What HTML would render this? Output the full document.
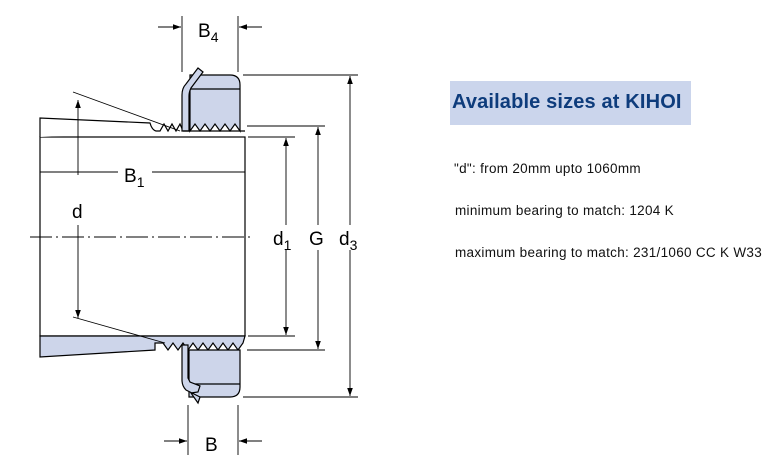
<!DOCTYPE html>
<html><head><style>
html,body{margin:0;padding:0;background:#fff;width:768px;height:465px;overflow:hidden}
svg{position:absolute;left:0;top:0}
.t{font-family:"Liberation Sans",Arial,sans-serif;position:absolute;color:#111;font-size:13.5px;white-space:nowrap}
</style></head><body>
<svg width="768" height="465" viewBox="0 0 768 465">
<defs>
<marker id="a" viewBox="0 0 10 10" refX="10" refY="5" markerWidth="10" markerHeight="8" orient="auto-start-reverse" markerUnits="userSpaceOnUse"><path d="M0,1.5 L10,5 L0,8.5z" fill="#000"/></marker>
</defs>
<g stroke="#000" stroke-width="1.2" fill="none">
<rect x="40" y="137" width="205" height="199" fill="#fff"/>
<path d="M40,137 L40,118 L150,123 Q152,130 156,131 L160,131 L164,124 L168,131 L172,124 L176,131 L180,124 L183,131" fill="#fff"/>
<path d="M40,336 L245,336 L243,343 L238,350 L233,343 L228,350 L223,343 L218,350 L213,343 L208,350 L203,343 L198,350 L193,343 L188,350 L183,343 L178,350 L173,343 L168,350 L163,343 L158,343 L155,343 L155,350 L40,357 Z" fill="#cdd5ea"/>
<path d="M190,131 L190,75 L230,75 Q240,75 240,85 L240,131 L235,124 L230,131 L225,124 L220,131 L215,124 L210,131 L205,124 L200,131 L195,124 Z" fill="#cdd5ea"/>
<line x1="190" y1="89" x2="240" y2="89"/>
<path d="M182,131 L182,95 Q182,88 186,84 L198,68 L203,72 L191,88 Q189,92 189,96 L189,131 Z" fill="#cdd5ea"/>
<line x1="183" y1="131" x2="245" y2="131"/>
<path d="M189,350 L189,397 L230,397 Q240,397 240,387 L240,350 Z" fill="#cdd5ea"/>
<line x1="189" y1="384" x2="240" y2="384"/>
<path d="M182,345 L182,380 Q182,386 186,390 L200,397 L198,403 L191,393 L198,392 L200,386 L190,382 L188,378 L188,345 Z" fill="#cdd5ea"/>
<line x1="73" y1="92" x2="180" y2="131" stroke-width="0.9"/>
<line x1="73" y1="317" x2="165" y2="343" stroke-width="0.9"/>
</g>
<g stroke="#000" stroke-width="0.9" fill="none">
<line x1="30" y1="237" x2="252" y2="237" stroke-dasharray="22,4,2,4"/>
<line x1="78" y1="175" x2="78" y2="100" marker-end="url(#a)"/>
<line x1="78" y1="225" x2="78" y2="318" marker-end="url(#a)"/>
<line x1="40" y1="172" x2="118" y2="172"/>
<line x1="152" y1="172" x2="245" y2="172"/>
<line x1="248" y1="137" x2="295" y2="137"/>
<line x1="248" y1="336" x2="295" y2="336"/>
<line x1="247" y1="126" x2="325" y2="126"/>
<line x1="247" y1="350" x2="325" y2="350"/>
<line x1="243" y1="75" x2="358" y2="75"/>
<line x1="243" y1="397" x2="358" y2="397"/>
<line x1="286" y1="225" x2="286" y2="138" marker-end="url(#a)"/>
<line x1="286" y1="250" x2="286" y2="335" marker-end="url(#a)"/>
<line x1="318" y1="225" x2="318" y2="127" marker-end="url(#a)"/>
<line x1="318" y1="250" x2="318" y2="349" marker-end="url(#a)"/>
<line x1="350" y1="225" x2="350" y2="76" marker-end="url(#a)"/>
<line x1="350" y1="250" x2="350" y2="396" marker-end="url(#a)"/>
<line x1="182" y1="16" x2="182" y2="72"/>
<line x1="238" y1="16" x2="238" y2="72"/>
<line x1="158" y1="27" x2="181" y2="27" marker-end="url(#a)"/>
<line x1="262" y1="27" x2="239" y2="27" marker-end="url(#a)"/>
<line x1="188" y1="405" x2="188" y2="455"/>
<line x1="238" y1="405" x2="238" y2="455"/>
<line x1="164" y1="441" x2="187" y2="441" marker-end="url(#a)"/>
<line x1="262" y1="441" x2="239" y2="441" marker-end="url(#a)"/>
</g>
<g font-family="Liberation Sans,Arial,sans-serif" font-size="19" fill="#000">
<text x="198" y="37">B<tspan font-size="14" dy="5">4</tspan></text>
<text x="124" y="182">B<tspan font-size="14" dy="5">1</tspan></text>
<text x="72" y="218">d</text>
<text x="273" y="245">d<tspan font-size="14" dy="5">1</tspan></text>
<text x="309" y="245">G</text>
<text x="339" y="245">d<tspan font-size="14" dy="5">3</tspan></text>
<text x="205" y="451">B</text>
</g>
</svg>
<div style="position:absolute;left:450px;top:81px;width:241px;height:44px;background:#cbd5ec"></div>
<div class="t" style="left:452px;top:91px;font-size:20px;font-weight:bold;color:#0e3c7c;letter-spacing:0.15px">Available sizes at KIHOI</div>
<div class="t" style="left:454px;top:161px;letter-spacing:0.3px">"d": from 20mm upto 1060mm</div>
<div class="t" style="left:455px;top:203px;letter-spacing:0.3px">minimum bearing to match: 1204 K</div>
<div class="t" style="left:455px;top:245px;letter-spacing:0.3px">maximum bearing to match: 231/1060 CC K W33</div>
</body></html>
